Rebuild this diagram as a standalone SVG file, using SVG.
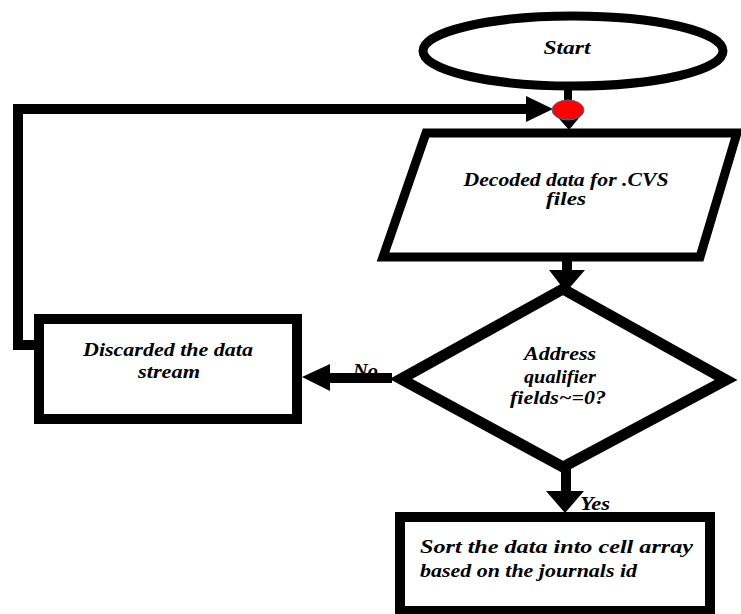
<svg xmlns="http://www.w3.org/2000/svg" width="741" height="614" viewBox="0 0 741 614">
  <style>
    .shape { fill: #ffffff; stroke: #000000; stroke-width: 10; stroke-linejoin: miter; stroke-miterlimit: 10; }
    .line { fill: none; stroke: #000000; stroke-width: 10; stroke-linejoin: miter; }
    .head { fill: #000000; stroke: none; }
    .lbl { font-family: "Liberation Serif", "Times New Roman", serif; font-weight: bold; font-style: italic; font-size: 18px; fill: #000000; }
  </style>
  <rect x="0" y="0" width="741" height="614" fill="#ffffff"/>

  <g id="connectors">
    <line class="line" x1="568" y1="86" x2="568" y2="112" style="stroke-width:8"/>
    <polygon class="head" points="554,113 583,113 569,130"/>
    <polyline class="line" points="34,345 18,345 18,109 530,109"/>
    <polygon class="head" points="526,96 553,109 526,122"/>
    <line class="line" x1="567" y1="260" x2="567" y2="274"/>
    <polygon class="head" points="549,270 585,270 566,292"/>
    <text class="lbl" x="353" y="377" textLength="25" lengthAdjust="spacingAndGlyphs" font-size="17">No</text>
    <line class="line" x1="392" y1="378" x2="326" y2="378"/>
    <polygon class="head" points="330,364 330,391 302,377"/>
    <line class="line" x1="566" y1="468" x2="566" y2="494"/>
    <polygon class="head" points="546,491 584,491 565,513"/>
    <text class="lbl" x="580" y="510" textLength="30" lengthAdjust="spacingAndGlyphs" font-size="17">Yes</text>
  </g>

  <g id="start">
    <ellipse class="shape" cx="573" cy="51" rx="150" ry="35" style="stroke-width:9"/>
    <text class="lbl" x="567" y="54" text-anchor="middle" textLength="47" lengthAdjust="spacingAndGlyphs">Start</text>
  </g>

  <g id="junction">
    <ellipse cx="568" cy="110" rx="16" ry="10" fill="#ff0000" stroke="#3f6fa8" stroke-width="1"/>
  </g>

  <g id="decoded">
    <polygon class="shape" points="426,133 737,133 700,257 383,257" style="stroke-width:9"/>
    <text class="lbl" x="566" y="186" text-anchor="middle" textLength="205" lengthAdjust="spacingAndGlyphs">Decoded data for .CVS</text>
    <text class="lbl" x="566" y="205" text-anchor="middle" textLength="40" lengthAdjust="spacingAndGlyphs">files</text>
  </g>

  <g id="decision">
    <polygon class="shape" points="563,289 726,380 563,467 401,379" style="stroke-width:11"/>
    <text class="lbl" x="560" y="360" text-anchor="middle" textLength="72" lengthAdjust="spacingAndGlyphs">Address</text>
    <text class="lbl" x="560" y="383" text-anchor="middle" textLength="72" lengthAdjust="spacingAndGlyphs">qualifier</text>
    <text class="lbl" x="558" y="404" text-anchor="middle" textLength="96" lengthAdjust="spacingAndGlyphs">fields~=0?</text>
  </g>

  <g id="discarded">
    <rect class="shape" x="39" y="319" width="258" height="100"/>
    <text class="lbl" x="168" y="356" text-anchor="middle" textLength="170" lengthAdjust="spacingAndGlyphs">Discarded the data</text>
    <text class="lbl" x="169" y="378" text-anchor="middle" textLength="62" lengthAdjust="spacingAndGlyphs">stream</text>
  </g>

  <g id="sort">
    <rect class="shape" x="400" y="517" width="310" height="94"/>
    <text class="lbl" x="420" y="553" textLength="273" lengthAdjust="spacingAndGlyphs">Sort the data into cell array</text>
    <text class="lbl" x="420" y="577" textLength="217" lengthAdjust="spacingAndGlyphs">based on the journals id</text>
  </g>
</svg>
